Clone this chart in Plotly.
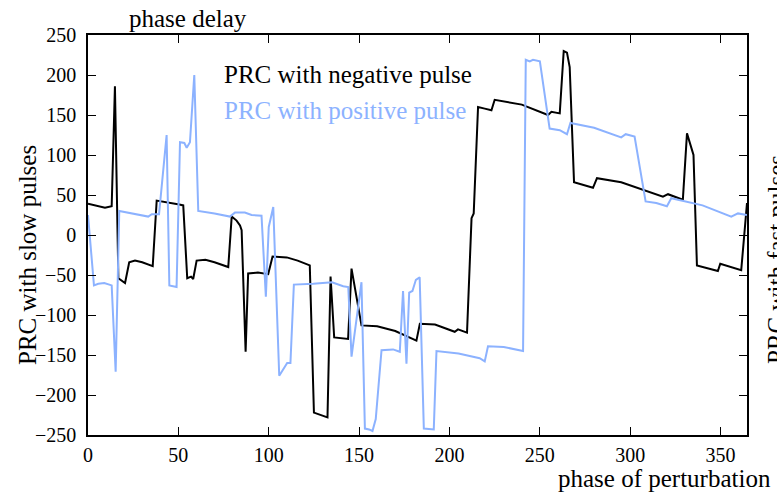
import plotly.graph_objects as go

# ---- data ----
neg_x = [0, 9.4, 13.1, 14.9, 16.8, 20.5, 22.8, 26, 30, 35.8, 38.0, 44, 50.5, 52.7, 54.9,
         57, 58.2, 60.1, 65, 70, 77.6, 79.5, 82.2, 84.1, 85.0, 87.2, 88.6, 94, 99.7, 102.1,
         110, 116, 122.7, 125.0, 132.5, 134.2, 136.2, 143.9, 145.8, 151.3, 160, 170, 181.7,
         183.6, 192, 202.9, 204.7, 209.7, 212.2, 213.4, 215.8, 219.5, 223.2, 225.0, 240,
         254.5, 256.4, 261.0, 263.2, 265.0, 266.5, 268.9, 279.4, 281.6, 295, 318.1, 320.9,
         329.1, 331.4, 335.0, 336.9, 348.5, 349.8, 361.4, 364.6]
neg_y = [39, 34, 36, 186, -54, -60, -34, -32, -34, -39, 43, 41, 38, 37, -54,
         -52, -55, -32, -31, -34, -40, 23, 18, 12, 6, -146, -48, -47, -49, -27,
         -28, -32, -38, -222, -228, -52, -128, -130, -42, -113, -114, -120, -132,
         -111, -112, -121, -118, -122, 21, 27, 160, 158, 156, 169, 163,
         150, 154, 152, 230, 228, 210, 66, 59, 71, 66, 48, 51,
         44, 127, 100, -38, -45, -36, -44, 40]

pos_x = [0, 3.3, 5.7, 9, 13.1, 15.3, 17.3, 25, 33.3, 35.3, 39.3, 43.5, 45, 49, 50.9,
         53.3, 54.6, 56.4, 58.8, 61, 70, 78.5, 81.3, 86.8, 90.5, 96, 98.4, 100, 102.5, 105.8,
         110.2, 112, 113.9, 124.6, 135, 141.2, 144, 145.8, 151.3, 153.2, 155.5, 157.4, 159.2,
         162.4, 168.8, 172.5, 174.3, 176.2, 177.7, 179.5, 181.4, 183.5, 185.8, 191.3, 192.8,
         205, 216.7, 219.5, 221.3, 230, 240.7, 242.2, 244.4, 246.2, 250, 255.4, 261, 265,
         266.9, 280, 295, 297.5, 302.4, 308.5, 314.4, 320.3, 322.7, 340, 355.9, 359.6, 364.6]
pos_y = [25, -63, -61, -60, -63, -171, 30, 27, 23, 26, 26, 125, -63, -65, 116,
         115, 109, 116, 200, 30, 27, 23, 28, 28, 25, 24, -77, 10, 35, -176,
         -160, -160, -62, -61, -59, -64, -65, -152, -59, -242, -243, -245, -230,
         -144, -143, -146, -70, -161, -72, -70, -56, -53, -242, -243, -145,
         -148, -154, -158, -139, -140, -145, 219, 217, 219, 217, 133, 131, 126,
         140, 134, 122, 126, 123, 42, 40, 36, 46, 37, 23, 27, 25]

series_names = ["PRC with negative pulse", "PRC with positive pulse"]
x_ticks = [0, 50, 100, 150, 200, 250, 300, 350]
y_ticks = [-250, -200, -150, -100, -50, 0, 50, 100, 150, 200, 250]

BLACK = "#000000"
BLUE = "#8cb2ff"
FONT = "Liberation Serif"

fig = go.Figure()
fig.add_trace(go.Scatter(x=neg_x, y=neg_y, mode="lines", name=series_names[0],
                         line=dict(color=BLACK, width=2), showlegend=False))
fig.add_trace(go.Scatter(x=pos_x, y=pos_y, mode="lines", name=series_names[1],
                         line=dict(color=BLUE, width=2), showlegend=False))

axis_common = dict(showline=True, linecolor="black", linewidth=1.5, mirror="ticks",
                   ticks="inside", ticklen=8, tickwidth=1, tickcolor="black",
                   showgrid=False, zeroline=False,
                   tickfont=dict(family=FONT, size=20, color="black"))

fig.update_xaxes(range=[0, 364.6], tickvals=x_ticks, ticklabelstandoff=1, **axis_common)
fig.update_yaxes(range=[-250, 250], tickvals=y_ticks, ticklabelstandoff=6, **axis_common)

L, R, T, B = 88, 30, 35, 60
W, H = 777, 495
pw, ph = W - L - R, H - T - B

def px2paper(px, py):
    return (px - L) / pw, (H - B - py) / ph

annots = []
# legend as coloured text
for name, color, py in [(series_names[0], BLACK, 74), (series_names[1], BLUE, 111)]:
    xx, yy = px2paper(222, py)
    annots.append(dict(text=name, x=xx, y=yy, xref="paper", yref="paper",
                       xanchor="left", yanchor="middle", showarrow=False,
                       font=dict(family=FONT, size=25, color=color)))
# top label
xx, yy = px2paper(188, 18)
annots.append(dict(text="phase delay", x=xx, y=yy, xref="paper", yref="paper",
                   xanchor="center", yanchor="middle", showarrow=False,
                   font=dict(family=FONT, size=25, color="black")))
# bottom label
xx, yy = px2paper(773, 478)
annots.append(dict(text="phase of perturbation", x=xx, y=yy, xref="paper", yref="paper",
                   xanchor="right", yanchor="middle", showarrow=False,
                   font=dict(family=FONT, size=25, color="black")))
# left label
xx, yy = px2paper(27, 255)
annots.append(dict(text="PRC with slow pulses", x=xx, y=yy, xref="paper", yref="paper",
                   xanchor="center", yanchor="middle", showarrow=False, textangle=-90,
                   font=dict(family=FONT, size=25, color="black")))
# right label (partly off the page, as in the reference)
xx, yy = px2paper(776, 260)
annots.append(dict(text="PRC with fast pulses", x=xx, y=yy, xref="paper", yref="paper",
                   xanchor="center", yanchor="middle", showarrow=False, textangle=-90,
                   font=dict(family=FONT, size=25, color="black")))

fig.update_layout(width=W, height=H, margin=dict(l=L, r=R, t=T, b=B),
                  paper_bgcolor="white", plot_bgcolor="white",
                  annotations=annots, showlegend=False)

fig.write_html("out.html")
